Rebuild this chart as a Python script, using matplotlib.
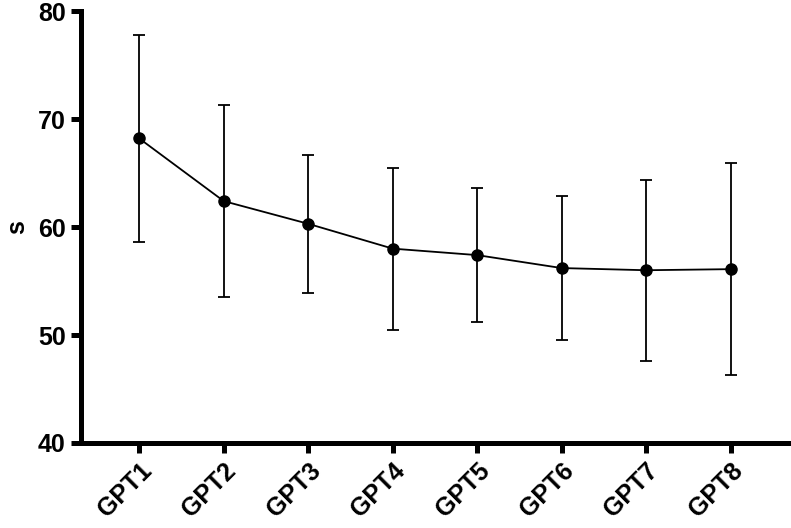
import matplotlib
matplotlib.use("Agg")
import matplotlib.pyplot as plt

groups = ["GPT1", "GPT2", "GPT3", "GPT4", "GPT5", "GPT6", "GPT7", "GPT8"]
means  = [68.2, 62.4, 60.3, 58.0, 57.4, 56.2, 56.0, 56.1]
errs   = [9.6, 8.9, 6.4, 7.5, 6.2, 6.7, 8.4, 9.8]

plt.rcParams["font.family"] = ["Liberation Sans", "DejaVu Sans"]
plt.rcParams["font.weight"] = "bold"

fig = plt.figure(figsize=(7.91, 5.28), dpi=100)
ax = fig.add_axes([0.1024, 0.161, 0.895, 0.818])

x = list(range(len(groups)))
ax.errorbar(x, means, yerr=errs, fmt="o-", color="black", ecolor="black",
            markersize=8, linewidth=1.3, elinewidth=1.3, capsize=4.5, capthick=1.3)

ax.set_xlim(-0.69, len(groups) - 1 + 0.69)
ax.set_ylim(40, 80)
ax.set_yticks([40, 50, 60, 70, 80])
ax.set_xticks(x)
ax.set_xticklabels(groups, rotation=45, ha="right", rotation_mode="anchor")

for side in ["top", "right"]:
    ax.spines[side].set_visible(False)
for side in ["left", "bottom"]:
    ax.spines[side].set_linewidth(3.6)
ax.tick_params(axis="both", width=3.6, length=7, labelsize=18, pad=4)
ax.set_ylabel("s", fontsize=18, fontweight="bold", labelpad=6)

fig.savefig("out.png", dpi=100)
